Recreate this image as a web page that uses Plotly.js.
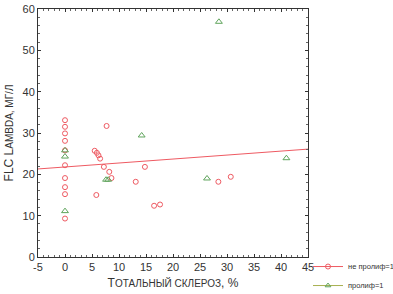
<!DOCTYPE html>
<html>
<head>
<meta charset="utf-8">
<script src="https://cdn.plot.ly/plotly-3.0.1.min.js"></script>
<style>html,body{margin:0;padding:0;background:#fff;}#chart{width:393px;height:294px;}</style>
</head>
<body>
<div id="chart"></div>
<script>
// Group "не пролиф=1" (red circles)
const redX = [0, 0, 0, 0, 0, 0, 0, 0, 0, 0,
  5.5, 5.9, 6.2, 6.5, 7.2, 8.2, 5.8, 7.7, 8.6, 13.1, 14.8, 16.5, 17.6, 28.4, 30.7];
const redY = [33.1, 31.5, 29.9, 28.1, 25.8, 22.2, 19.1, 16.9, 15.2, 9.3,
  25.7, 25.2, 24.6, 23.8, 21.8, 20.6, 15.0, 31.7, 19.1, 18.2, 21.8, 12.4, 12.7, 18.2, 19.4];
// Group "пролиф=1" (green triangles)
const greenX = [0, 0, 0, 7.6, 8.0, 14.2, 26.3, 28.5, 41.0];
const greenY = [25.8, 24.3, 11.1, 18.7, 18.7, 29.4, 19.0, 56.9, 23.9];
// Regression line endpoints
const fitX = [-5, 45];
const fitY = [21.3, 26.1];
const legendNames = ['не пролиф=1', 'пролиф=1'];
const xTicks = [-5, 0, 5, 10, 15, 20, 25, 30, 35, 40, 45];
const yTicks = [0, 10, 20, 30, 40, 50, 60];

const red = '#ee5a62';
const green = '#5fa45c';
const tickFont = {family: 'Liberation Sans, Arial, sans-serif', size: 11, color: '#333'};

const traces = [
  {x: fitX, y: fitY, mode: 'lines', line: {color: red, width: 1}, showlegend: false, hoverinfo: 'skip'},
  {x: redX, y: redY, mode: 'markers', showlegend: false,
   marker: {symbol: 'circle-open', size: 5, color: red, line: {width: 1}}},
  {x: greenX, y: greenY, mode: 'markers', showlegend: false,
   marker: {symbol: 'triangle-up-open', size: 6, color: green, line: {width: 1}}},
  {x: [null], y: [null], mode: 'lines+markers', name: legendNames[0],
   line: {color: red, width: 1}, marker: {symbol: 'circle-open', size: 5, color: red}},
  {x: [null], y: [null], mode: 'lines+markers', name: legendNames[1],
   line: {color: '#a8b050', width: 1}, marker: {symbol: 'triangle-up-open', size: 5, color: green}}
];

const axisCommon = {
  showgrid: false, zeroline: false, showline: true, linecolor: '#333', linewidth: 1,
  mirror: 'allticks', ticks: 'inside', ticklen: 3, tickcolor: '#333', tickfont: tickFont,
  automargin: false
};

const layout = {
  width: 393, height: 294,
  margin: {l: 38, r: 85, t: 9, b: 37, autoexpand: false},
  paper_bgcolor: '#fff', plot_bgcolor: '#fff',
  font: {family: 'Liberation Sans, Arial, sans-serif', color: '#333'},
  xaxis: Object.assign({}, axisCommon, {
    range: [-5, 45], tickvals: xTicks, ticktext: xTicks.map(String),
    minor: {ticks: 'inside', ticklen: 2, tickcolor: '#666', dtick: 1},
    title: {text: 'Т<span style="font-size:10px">ОТАЛЬНЫЙ СКЛЕРОЗ</span>, %', font: {size: 12, color: '#333'}, standoff: 6}
  }),
  yaxis: Object.assign({}, axisCommon, {
    range: [0, 60], tickvals: yTicks, ticktext: yTicks.map(String),
    minor: {ticks: 'inside', ticklen: 2, tickcolor: '#666', dtick: 2},
    title: {text: 'FLC L<span style="font-size:10px">AMBDA, МГ/Л</span>', font: {size: 12, color: '#333'}, standoff: 6}
  }),
  legend: {x: 1.0, y: 0.02, xanchor: 'left', yanchor: 'top', font: {size: 7.5, color: '#333'},
    bgcolor: 'rgba(0,0,0,0)', borderwidth: 0, itemwidth: 30},
  showlegend: true
};

Plotly.newPlot('chart', traces, layout, {displayModeBar: false, staticPlot: true});
</script>
</body>
</html>
